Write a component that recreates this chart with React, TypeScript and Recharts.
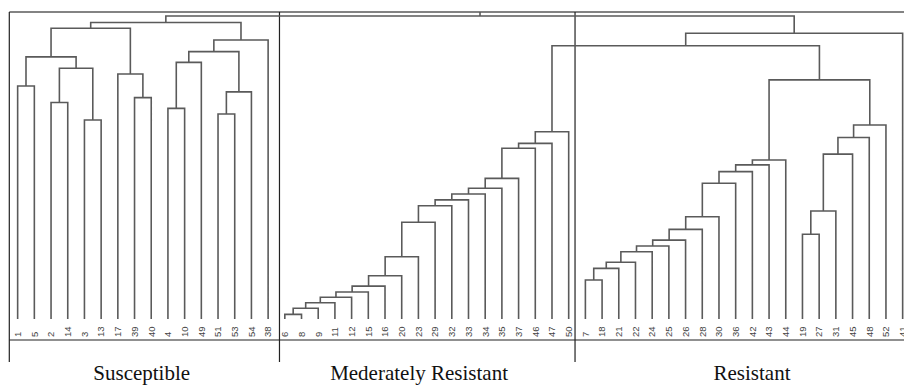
import React from 'react'
import { LineChart, Line, XAxis, YAxis, ReferenceLine } from 'recharts'

// leaf order along the bottom, left to right
const susceptible = ['1', '5', '2', '14', '3', '13', '17', '39', '40', '4', '10', '49', '51', '53', '54', '38']
const moderate = ['6', '8', '9', '11', '12', '15', '16', '20', '23', '29', '32', '33', '34', '35', '37', '46', '47', '50']
const resistant = ['7', '18', '21', '22', '24', '25', '26', '28', '30', '36', '42', '43', '44', '19', '27', '31', '45', '48', '52', '41']
const leaves = [...susceptible, ...moderate, ...resistant]

// hclust style merges: a string is a leaf label, a number points to an earlier merge
const mergeLeft: (string | number)[] = [
  '1', '2', '3', 1, 0, '39', '17', 4, '4', 8, '51', 10, 9, 12, 7,
  '6', 15, 16, 17, 18, 19, 20, 21, 22, 23, 24, 25, 26, 27, 28, 29, 30,
  '7', 32, 33, 34, 35, 36, 37, 38, 39, 40, 41, 42, '19', 44, 45, 46, 47, 43,
  31, 50, 14,
]
const mergeRight: (string | number)[] = [
  '5', '14', '13', 2, 3, '40', 5, 6, '10', '49', '53', '54', 11, '38', 13,
  '8', '9', '11', '12', '15', '16', '20', '23', '29', '32', '33', '34', '35', '37', '46', '47', '50',
  '18', '21', '22', '24', '25', '26', '28', '30', '36', '42', '43', '44', '27', '31', '45', '48', '52', 48,
  49, '41', 51,
]
const mergeHeight = [
  75.9, 70.5, 64.8, 81.7, 85.4, 72.1, 79.8, 94.7, 68.6, 83.6, 66.8, 74.0, 87.1, 90.9, 96.6,
  1.5, 3.5, 5.3, 7.1, 8.8, 10.7, 14.1, 20.3, 31.5, 36.9, 38.8, 40.7, 42.6, 45.8, 55.6, 57.2, 61.0,
  12.7, 16.5, 18.5, 21.9, 23.8, 25.7, 29.2, 33.3, 44.2, 48.0, 50.2, 51.8, 27.6, 35.2, 53.7, 59.1, 63.2, 77.9,
  89.0, 93.1, 98.7,
]

const groupNames = ['Susceptible', 'Mederately Resistant', 'Resistant']
const groupLabelAt = [7.43, 24.04, 43.98]
const groupBreaks = [15.68, 33.38]

const TOP = 100
const FLOOR = -14
const RULE = -6.84

type Pt = { x: number; h: number | null }

function buildSegments(): Pt[] {
  const nodeX: number[] = []
  const nodeH: number[] = []
  const pos = (c: string | number): [number, number] =>
    typeof c === 'string' ? [leaves.indexOf(c), 0] : [nodeX[c], nodeH[c]]
  const pts: Pt[] = []
  mergeHeight.forEach((h, i) => {
    const [xl, hl] = pos(mergeLeft[i])
    const [xr, hr] = pos(mergeRight[i])
    nodeX.push((xl + xr) / 2)
    nodeH.push(h)
    pts.push({ x: xl, h: hl }, { x: xl, h }, { x: xr, h }, { x: xr, h: hr }, { x: xr, h: null })
  })
  const root = nodeX.length - 1
  pts.push({ x: nodeX[root], h: nodeH[root] }, { x: nodeX[root], h: TOP })
  return pts
}

const segments = buildSegments()

const LeafTick = (props: any) => {
  const { x, y, payload } = props
  const yb = y - 25
  return (
    <text
      x={x}
      y={yb}
      dy="0.35em"
      transform={`rotate(-90, ${x}, ${yb})`}
      textAnchor="start"
      fontFamily="Liberation Sans, Arial, sans-serif"
      fontSize={9.5}
      fill="#444"
    >
      {leaves[payload.value]}
    </text>
  )
}

const GroupTick = (props: any) => {
  const { x, y, payload } = props
  return (
    <text
      x={x}
      y={y + 17.3}
      textAnchor="middle"
      fontFamily="Liberation Serif, Times New Roman, serif"
      fontSize={21}
      fill="#111"
    >
      {groupNames[groupLabelAt.indexOf(payload.value)]}
    </text>
  )
}

export default function App() {
  return (
    <div style={{ position: 'absolute', left: 0, top: 0, width: 904, height: 385, overflow: 'hidden', background: '#fff' }}>
      <LineChart width={911} height={385} data={segments} margin={{ top: 12, right: 0, bottom: 0, left: 9.3 }}>
        <XAxis
          type="number"
          dataKey="x"
          domain={[-0.5, 53.5]}
          allowDataOverflow
          ticks={leaves.map((_, i) => i)}
          interval={0}
          tickLine={false}
          axisLine={false}
          tickSize={0}
          tickMargin={0}
          height={1}
          tick={LeafTick}
        />
        <XAxis
          xAxisId="group"
          type="number"
          dataKey="x"
          domain={[-0.5, 53.5]}
          allowDataOverflow
          ticks={groupLabelAt}
          interval={0}
          tickLine={false}
          axisLine={false}
          tickSize={0}
          tickMargin={0}
          height={22}
          tick={GroupTick}
        />
        <YAxis hide type="number" domain={[FLOOR, TOP]} allowDataOverflow />
        <ReferenceLine y={TOP} stroke="#5a5a5a" strokeWidth={1.6} />
        <ReferenceLine y={RULE} stroke="#222" strokeWidth={1.2} />
        <ReferenceLine x={-0.5} stroke="#222" strokeWidth={1.2} />
        {groupBreaks.map((b) => (
          <ReferenceLine key={b} x={b} stroke="#222" strokeWidth={1.2} />
        ))}
        <Line
          type="linear"
          dataKey="h"
          stroke="#5a5a5a"
          strokeWidth={1.6}
          dot={false}
          activeDot={false}
          connectNulls={false}
          isAnimationActive={false}
        />
      </LineChart>
    </div>
  )
}
